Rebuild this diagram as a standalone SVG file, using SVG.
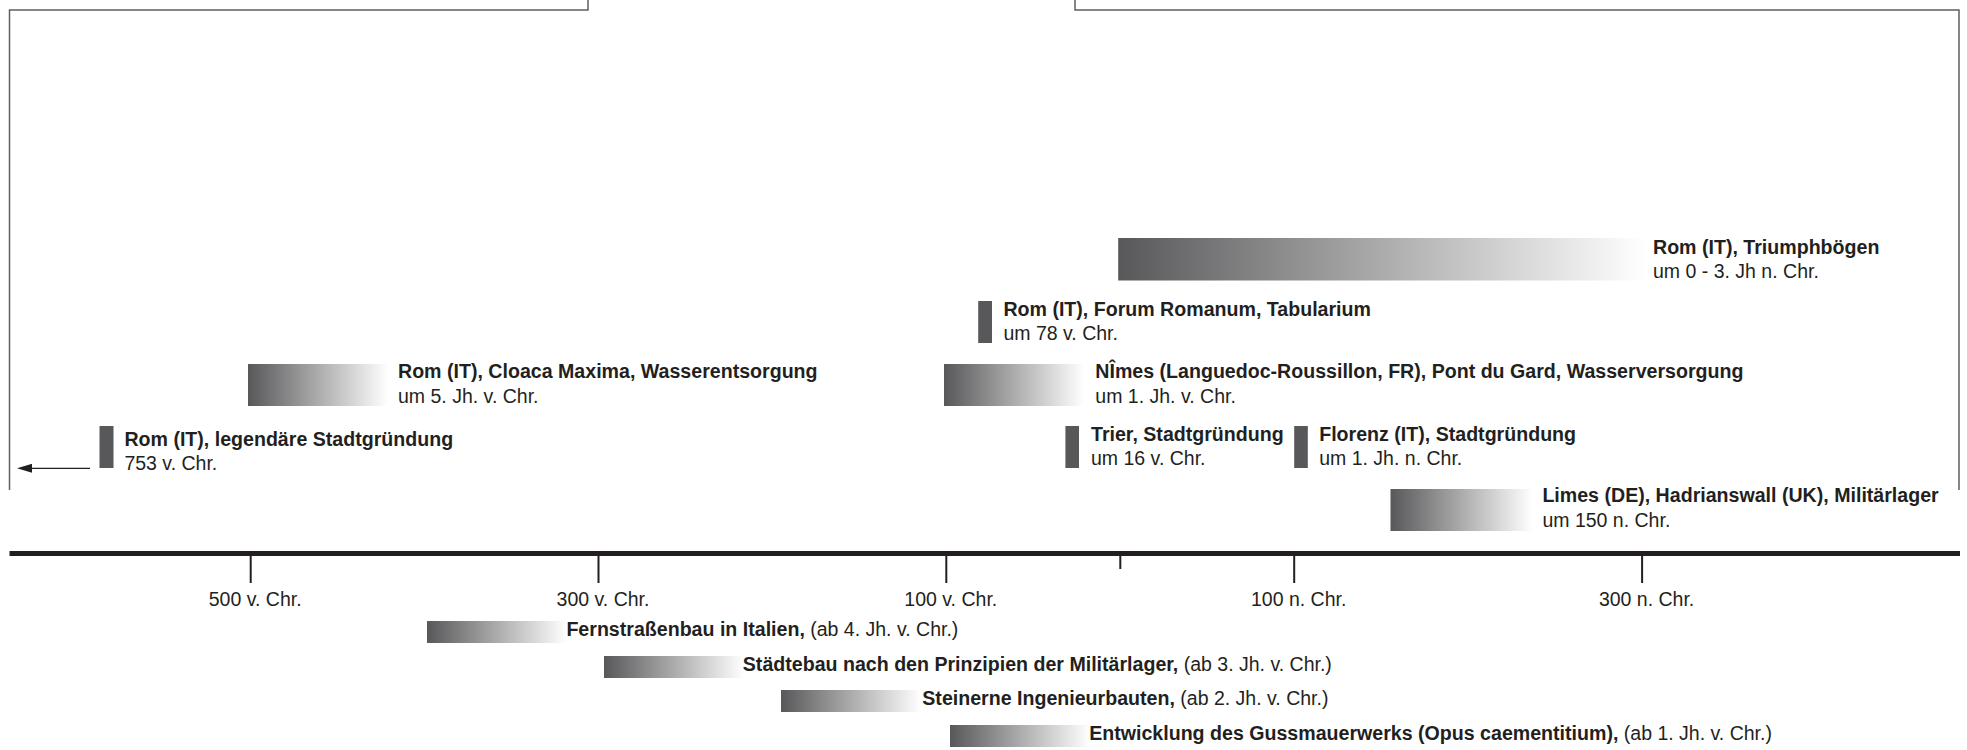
<svg xmlns="http://www.w3.org/2000/svg" width="1967" height="750" viewBox="0 0 1967 750">
<defs>
<linearGradient id="fade" x1="0" y1="0" x2="1" y2="0">
<stop offset="0" stop-color="#58585a"/>
<stop offset="1" stop-color="#ffffff"/>
</linearGradient>
<marker id="arrowhead" viewBox="0 0 15 9" refX="0" refY="4.5" markerWidth="15" markerHeight="9" markerUnits="userSpaceOnUse" orient="auto">
<path d="M0,0 L15,4.5 L0,9 Z" fill="#231f20"/>
</marker>
</defs>
<style>
text{font-family:"Liberation Sans",Arial,sans-serif;fill:#231f20;font-size:19.5px}
.b{font-weight:bold;font-size:19.6px}
.frame{fill:none;stroke:#5f5f5f;stroke-width:1.5}
.axis{stroke:#231f20;stroke-width:5}
.tick{stroke:#231f20;stroke-width:2}
.grad{fill:url(#fade)}
.solid{fill:#58585a}
.tl{text-anchor:middle}
</style>
<rect width="1967" height="750" fill="#ffffff"/>
<g id="frame">
<path class="frame" d="M9.5,490 V10 H588 V0"/>
<path class="frame" d="M1075,0 V10 H1959 V490"/>
</g>
<g id="axis">
<line class="axis" x1="9.5" y1="553.5" x2="1960" y2="553.5"/>
<line class="tick" x1="250.7" y1="555" x2="250.7" y2="583"/>
<line class="tick" x1="598.5" y1="555" x2="598.5" y2="583"/>
<line class="tick" x1="946.3" y1="555" x2="946.3" y2="583"/>
<line class="tick" x1="1120.3" y1="555" x2="1120.3" y2="569"/>
<line class="tick" x1="1294.2" y1="555" x2="1294.2" y2="583"/>
<line class="tick" x1="1642.1" y1="555" x2="1642.1" y2="583"/>
<text class="tl" x="255.2" y="606">500 v. Chr.</text>
<text class="tl" x="603" y="606">300 v. Chr.</text>
<text class="tl" x="950.8" y="606">100 v. Chr.</text>
<text class="tl" x="1298.7" y="606">100 n. Chr.</text>
<text class="tl" x="1646.6" y="606">300 n. Chr.</text>
</g>
<g id="connectors">
<line x1="90" y1="468.3" x2="32" y2="468.3" stroke="#231f20" stroke-width="1.3" marker-end="url(#arrowhead)"/>
</g>
<g id="triumph">
<rect class="grad" x="1118.2" y="238" width="527" height="42.5"/>
<text class="b" x="1653" y="254">Rom (IT), Triumphbögen</text>
<text x="1653" y="278">um 0 - 3. Jh n. Chr.</text>
</g>
<g id="forum">
<rect class="solid" x="978.2" y="301" width="13.8" height="42"/>
<text class="b" x="1003.4" y="316">Rom (IT), Forum Romanum, Tabularium</text>
<text x="1003.4" y="340">um 78 v. Chr.</text>
</g>
<g id="cloaca">
<rect class="grad" x="248" y="364" width="140" height="42"/>
<text class="b" x="398" y="378">Rom (IT), Cloaca Maxima, Wasserentsorgung</text>
<text x="398" y="403">um 5. Jh. v. Chr.</text>
</g>
<g id="nimes">
<rect class="grad" x="944" y="364" width="140" height="42"/>
<text class="b" x="1095.3" y="378">NÎmes (Languedoc-Roussillon, FR), Pont du Gard, Wasserversorgung</text>
<text x="1095.3" y="403">um 1. Jh. v. Chr.</text>
</g>
<g id="rom-gruendung">
<rect class="solid" x="99.5" y="426" width="14" height="42"/>
<text class="b" x="124.4" y="446">Rom (IT), legendäre Stadtgründung</text>
<text x="124.4" y="470">753 v. Chr.</text>
</g>
<g id="trier">
<rect class="solid" x="1065.4" y="426" width="13.6" height="42"/>
<text class="b" x="1091" y="441">Trier, Stadtgründung</text>
<text x="1091" y="465">um 16 v. Chr.</text>
</g>
<g id="florenz">
<rect class="solid" x="1294.2" y="426" width="13.6" height="42"/>
<text class="b" x="1319.2" y="441">Florenz (IT), Stadtgründung</text>
<text x="1319.2" y="465">um 1. Jh. n. Chr.</text>
</g>
<g id="limes">
<rect class="grad" x="1390.5" y="489" width="142" height="42"/>
<text class="b" x="1542.4" y="502">Limes (DE), Hadrianswall (UK), Militärlager</text>
<text x="1542.4" y="527">um 150 n. Chr.</text>
</g>
<g id="fernstrassen">
<rect class="grad" x="427" y="621" width="140" height="22"/>
<text x="566.4" y="636"><tspan class="b">Fernstraßenbau in Italien,</tspan> (ab 4. Jh. v. Chr.)</text>
</g>
<g id="staedtebau">
<rect class="grad" x="604" y="656" width="140" height="22"/>
<text x="742.8" y="671"><tspan class="b">Städtebau nach den Prinzipien der Militärlager,</tspan> (ab 3. Jh. v. Chr.)</text>
</g>
<g id="steinerne">
<rect class="grad" x="781" y="690" width="140" height="22"/>
<text x="922.3" y="705"><tspan class="b">Steinerne Ingenieurbauten,</tspan> (ab 2. Jh. v. Chr.)</text>
</g>
<g id="gussmauerwerk">
<rect class="grad" x="950" y="725" width="140" height="22"/>
<text x="1089.2" y="740"><tspan class="b">Entwicklung des Gussmauerwerks (Opus caementitium),</tspan> (ab 1. Jh. v. Chr.)</text>
</g>
</svg>
